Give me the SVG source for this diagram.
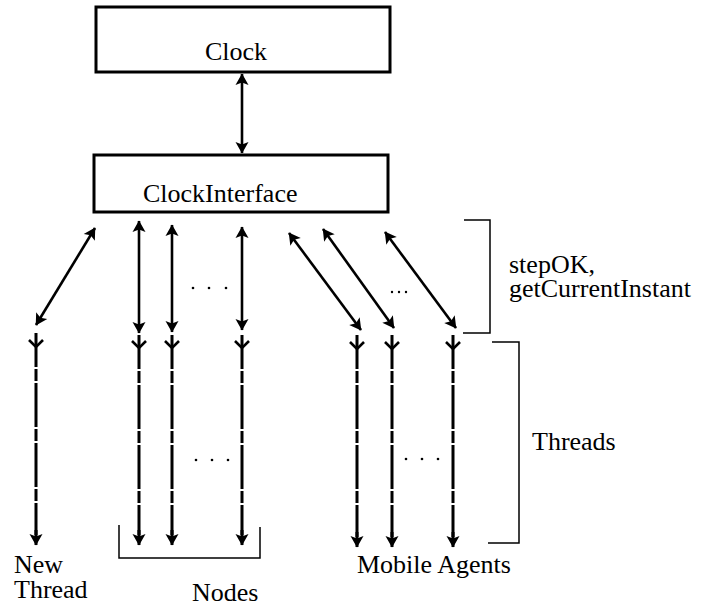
<svg xmlns="http://www.w3.org/2000/svg" width="717" height="608" viewBox="0 0 717 608">
  <style>
    .box { fill: #fff; stroke: #000; stroke-width: 3; }
    .lbl { font-family: "Liberation Serif", "DejaVu Serif", serif; font-size: 26px; fill: #000; }
    .dbl { stroke: #000; stroke-width: 2.6; fill: none; marker-start: url(#head); marker-end: url(#head); }
    .thread { stroke: #000; stroke-width: 3; fill: none; stroke-dasharray: 44 2 12 2; stroke-dashoffset: 10; }
    .tip { stroke: #000; stroke-width: 3; fill: none; marker-end: url(#head); }
    .tail { stroke: #000; stroke-width: 2.6; fill: none; }
    .brace { stroke: #000; stroke-width: 1.5; fill: none; }
    .dot { fill: #000; }
  </style>
  <defs>
    <marker id="head" viewBox="-12 -7 13 14" refX="0" refY="0" markerWidth="13" markerHeight="14"
            markerUnits="userSpaceOnUse" orient="auto-start-reverse">
      <path d="M-11,-6.5 L0.5,0 L-11,6.5 L-8.5,0 Z" fill="#000"/>
    </marker>
  </defs>

  <!-- nodes -->
  <g id="clock">
    <rect class="box" x="96" y="7" width="294" height="65"/>
    <text class="lbl" x="205" y="60">Clock</text>
  </g>
  <g id="clock-interface">
    <rect class="box" x="94" y="155" width="294" height="57"/>
    <text class="lbl" x="143" y="202">ClockInterface</text>
  </g>

  <!-- connectors -->
  <g id="connectors">
    <!-- Clock <-> ClockInterface -->
    <line class="dbl" x1="242" y1="74" x2="242" y2="153"/>

    <!-- ClockInterface <-> new thread -->
    <line class="dbl" x1="95" y1="228" x2="36" y2="325"/>
    <!-- ClockInterface <-> nodes -->
    <line class="dbl" x1="139" y1="221" x2="139" y2="333"/>
    <line class="dbl" x1="172" y1="225" x2="172" y2="332"/>
    <line class="dbl" x1="242" y1="227" x2="242" y2="330"/>
    <!-- ClockInterface <-> mobile agents -->
    <line class="dbl" x1="289" y1="233" x2="361" y2="330"/>
    <line class="dbl" x1="323" y1="229" x2="394" y2="328"/>
    <line class="dbl" x1="385" y1="232" x2="456" y2="328"/>

    <!-- thread life lines -->
    <g id="thread-lines">
      <line class="thread" x1="36" y1="333" x2="36" y2="535"/>
      <line class="thread" x1="139" y1="335" x2="139" y2="535"/>
      <line class="thread" x1="172" y1="335" x2="172" y2="535"/>
      <line class="thread" x1="242" y1="335" x2="242" y2="535"/>
      <line class="thread" x1="357" y1="335" x2="357" y2="537"/>
      <line class="thread" x1="392" y1="335" x2="392" y2="537"/>
      <line class="thread" x1="453" y1="335" x2="453" y2="537"/>
      <!-- end arrows -->
      <line class="tip" x1="36" y1="530" x2="36" y2="545"/>
      <line class="tip" x1="139" y1="530" x2="139" y2="545"/>
      <line class="tip" x1="172" y1="530" x2="172" y2="545"/>
      <line class="tip" x1="242" y1="530" x2="242" y2="545"/>
      <line class="tip" x1="357" y1="532" x2="357" y2="547"/>
      <line class="tip" x1="392" y1="532" x2="392" y2="547"/>
      <line class="tip" x1="453" y1="532" x2="453" y2="547"/>
      <!-- start chevrons -->
      <polyline class="tail" points="29,340 36,347 43,340"/>
      <polyline class="tail" points="132,341 139,348 146,341"/>
      <polyline class="tail" points="165,341 172,348 179,341"/>
      <polyline class="tail" points="235,341 242,348 249,341"/>
      <polyline class="tail" points="350,342 357,349 364,342"/>
      <polyline class="tail" points="385,342 392,349 399,342"/>
      <polyline class="tail" points="446,342 453,349 460,342"/>
    </g>
  </g>

  <!-- ellipses -->
  <g id="ellipses">
    <circle class="dot" cx="193" cy="288" r="1.3"/>
    <circle class="dot" cx="209" cy="288" r="1.3"/>
    <circle class="dot" cx="226" cy="288" r="1.3"/>
    <circle class="dot" cx="392" cy="292" r="1.2"/>
    <circle class="dot" cx="399" cy="292" r="1.2"/>
    <circle class="dot" cx="406" cy="292" r="1.2"/>
    <circle class="dot" cx="196" cy="460" r="1.3"/>
    <circle class="dot" cx="212" cy="460" r="1.3"/>
    <circle class="dot" cx="228" cy="460" r="1.3"/>
    <circle class="dot" cx="406" cy="459" r="1.3"/>
    <circle class="dot" cx="422" cy="459" r="1.3"/>
    <circle class="dot" cx="438" cy="459" r="1.3"/>
  </g>

  <!-- brackets -->
  <g id="brackets">
    <polyline class="brace" points="464,220 490,220 490,333 463,333"/>
    <polyline class="brace" points="492,342 519,342 519,543 488,543"/>
    <polyline class="brace" points="119,525 119,558 260,558 260,527"/>
  </g>

  <!-- labels -->
  <g id="labels">
    <text class="lbl" x="509" y="273">stepOK,</text>
    <text class="lbl" x="509" y="297">getCurrentInstant</text>
    <text class="lbl" x="532" y="450">Threads</text>
    <text class="lbl" x="14" y="573">New</text>
    <text class="lbl" x="14" y="598">Thread</text>
    <text class="lbl" x="192" y="601">Nodes</text>
    <text class="lbl" x="357" y="573">Mobile Agents</text>
  </g>
</svg>
